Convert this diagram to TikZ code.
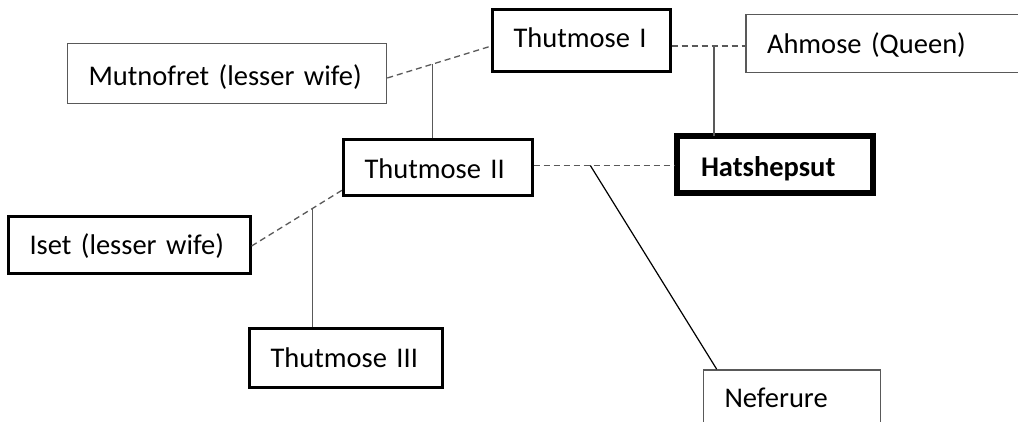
\documentclass[tikz,border=0pt]{standalone}
\usepackage{fontspec}
\setmainfont{Carlito}
\definecolor{lgray}{HTML}{595959}
\tikzset{
  famfont/.style={font=\fontsize{28.5}{34}\selectfont},
  pbox/.style={draw=black, line width=2.2pt, rectangle, famfont, align=left, inner xsep=21pt, inner ysep=0pt},
  gbox/.style={pbox, draw=lgray, line width=1.6pt},
  heirbox/.style={pbox, line width=6pt, inner xsep=24pt, font=\fontsize{28.5}{34}\selectfont\bfseries},
  marriage/.style={draw=lgray, line width=1.3pt, dash pattern=on 6pt off 4pt},
  descent/.style={draw=lgray, line width=1.6pt},
  childline/.style={draw=black, line width=1.2pt},
}
\begin{document}
\begin{tikzpicture}[x=1pt, y=-1pt]
\useasboundingbox (0,0) rectangle (1018,422);
\clip (0,0) rectangle (1018,422);
\fill[white] (0,0) rectangle (1018,422);

% boxes
\node[gbox, minimum height=60pt, text width=277pt, text height=26.5pt, text depth=1.5pt] (mut) at (227,73.5) {\mbox{Mutnofret (lesser wife)}};
\node[pbox, minimum height=62pt, text width=136pt, text height=21.5pt, text depth=6.5pt] (t1) at (581.5,40.5) {\mbox{Thutmose I}};
\node[gbox, minimum height=58pt, text width=242pt, text height=24.5pt, text depth=3.5pt] (ahm) at (888,43.5) {\mbox{Ahmose (Queen)}};
\node[pbox, minimum height=56pt, text width=147pt, text height=25.5pt, text depth=2.5pt] (t2) at (438,167.5) {\mbox{Thutmose II}};
\node[heirbox, minimum height=57pt, text width=148pt, text height=26.5pt, text depth=1.5pt] (hat) at (775,164.5) {\mbox{Hatshepsut}};
\node[pbox, minimum height=57pt, text width=200pt, text height=24pt, text depth=4pt] (iset) at (129.5,245) {\mbox{Iset (lesser wife)}};
\node[pbox, minimum height=59pt, text width=151pt, text height=23pt, text depth=5pt] (t3) at (346,358) {\mbox{Thutmose III}};
\node[gbox, minimum height=60pt, text width=135pt, text height=21pt, text depth=7pt] (nef) at (792,400) {\mbox{Neferure}};

% marriages and descent
\draw[marriage] ([yshift=-4.5pt]mut.east) -- coordinate[pos=0.433] (j1) ([yshift=-5.5pt]t1.west);
\draw[descent] (j1) -- (j1 |- t2.north);

\draw[marriage] ([yshift=-5.5pt]t1.east) -- coordinate[pos=0.58] (j2) ([yshift=-2.5pt]ahm.west);
\draw[descent] (j2) -- ([yshift=-3pt]j2 |- hat.north);

\draw[marriage] ([yshift=2pt]t2.east) -- coordinate[pos=0.404] (j3) ([yshift=-1pt]hat.west);
\draw[childline] (j3) -- ([xshift=14pt]nef.north west);

\draw[marriage] ([yshift=-1pt]iset.east) -- coordinate[pos=0.67] (j4) ([yshift=-22.5pt]t2.west);
\draw[descent] (j4) -- (j4 |- t3.north);
\end{tikzpicture}
\end{document}
